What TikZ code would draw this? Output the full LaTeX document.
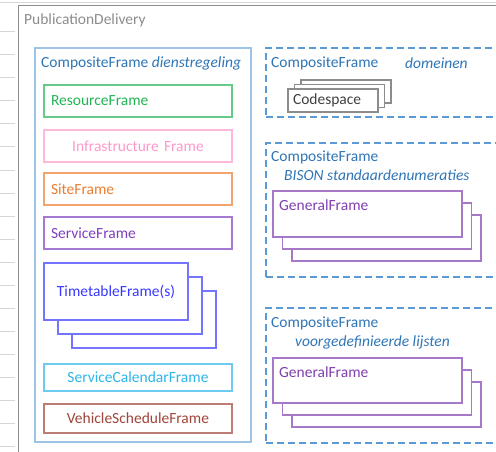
\documentclass[tikz,border=0pt]{standalone}
\usepackage{fontspec}
\setmainfont{Carlito}
\usetikzlibrary{positioning,shadows}

\definecolor{gridgray}{HTML}{D6D6D6}
\definecolor{pdgray}{HTML}{8C8C8C}
\definecolor{cfblue}{HTML}{2E75B6}
\definecolor{cfline}{HTML}{9DC3E6}
\definecolor{cfdash}{HTML}{5B9BD5}
\definecolor{resgreen}{HTML}{22B455}
\definecolor{infpink}{HTML}{FF99CC}
\definecolor{siteorange}{HTML}{ED7D31}
\definecolor{servpurple}{HTML}{7F3FBF}
\definecolor{ttblue}{HTML}{3838FF}
\definecolor{calcyan}{HTML}{2DB5E8}
\definecolor{vehbrown}{HTML}{A0453A}
\definecolor{csgray}{HTML}{404040}
\definecolor{genpurple}{HTML}{8040B0}

\tikzset{
    txt/.style={font=\fontsize{15.5}{18}\selectfont},
    frm/.style={txt, draw=#1!70, text=#1, fill=white, line width=1.1pt,
        inner xsep=7pt, inner ysep=0pt, outer sep=0pt, minimum height=32pt},
    leftfrm/.style={frm=#1, text width=174pt, align=left},
    midfrm/.style={frm=#1, text width=174pt, align=center},
    ttl/.style={txt, inner sep=0pt, anchor=west},
    cframe/.style={draw=cfdash, line width=1.3pt, dash pattern=on 7pt off 4pt,
        anchor=north west, minimum width=260pt, inner sep=0pt, outer sep=0pt},
    stack/.style 2 args={copy shadow={shadow xshift=2*#1, shadow yshift=2*#2},
        copy shadow={shadow xshift=#1, shadow yshift=#2}}
}

\begin{document}
\begin{tikzpicture}[x=1pt, y=-1pt]
    \useasboundingbox (0,0) rectangle (496,452);
    \clip (0,0) rectangle (496,452);
    % sheet lines
    \draw[gridgray, line width=1pt] (0,2.5) -- (496,2.5);
    \foreach \y in {32,55,...,447} \draw[gridgray, line width=1pt] (0,\y) -- (15,\y);

    % publication delivery
    \draw[pdgray, line width=1pt] (18,6) rectangle (520,480);
    \node[ttl, text=pdgray] (pd) at (24,20) {PublicationDelivery};

    % dienstregeling
    \node[draw=cfline, line width=1.4pt, anchor=north west, minimum width=216pt,
        minimum height=394pt, inner sep=0pt, outer sep=0pt] (dienst) at (35,48) {};
    \node[ttl, text=cfblue] (dienstttl) at (41,63) {CompositeFrame \textit{dienstregeling}};
    \node[leftfrm=resgreen, anchor=north west] (resource) at (44,85) {ResourceFrame};
    \node[midfrm=infpink, below=13pt of resource] (infra) {Infrastructure Frame};
    \node[leftfrm=siteorange, below=11pt of infra] (site) {SiteFrame};
    \node[leftfrm=servpurple, below=12pt of site] (service) {ServiceFrame};
    \node[frm=ttblue, minimum width=144pt, minimum height=57pt, stack={14pt}{-14pt},
        below=14pt of service.south west, anchor=north west] (timetable) {TimetableFrame(s)};
    \node[midfrm=calcyan, minimum height=27pt, below=44pt of timetable.south west,
        anchor=north west] (calendar) {ServiceCalendarFrame};
    \node[midfrm=vehbrown, minimum height=29pt, below=13pt of calendar] (vehicle) {VehicleScheduleFrame};

    % domeinen
    \node[cframe, minimum height=69pt] (domein) at (266,48) {};
    \node[ttl, text=cfblue] (domeinttl) at (271,63) {CompositeFrame};
    \node[ttl, text=cfblue] (domeinsub) at (405,63) {\textit{domeinen}};
    \node[frm=csgray, draw=pdgray, minimum height=23pt, inner xsep=5pt, text width=80pt,
        align=left, stack={6.5pt}{4.5pt}, anchor=north west] (codespace) at (288,89) {Codespace};

    % standaardenumeraties
    \node[cframe, minimum height=134pt] (bison) at (266,143) {};
    \node[ttl, text=cfblue] (bisonttl) at (271,157) {CompositeFrame};
    \node[ttl, text=cfblue] (bisonsub) at (284,175) {\textit{BISON standaardenumeraties}};
    \node[frm=genpurple, minimum width=189pt, minimum height=46pt, stack={9.5pt}{-12pt},
        anchor=north west] (bisongen) at (273,191) {};
    \node[ttl, text=genpurple] (bisongenttl) at ([shift={(6,14)}]bisongen.north west) {GeneralFrame};

    % voorgedefinieerde lijsten
    \node[cframe, minimum height=135pt] (lijst) at (266,308) {};
    \node[ttl, text=cfblue] (lijstttl) at (271,323) {CompositeFrame};
    \node[ttl, text=cfblue] (lijstsub) at (295,342) {\textit{voorgedefinieerde lijsten}};
    \node[frm=genpurple, minimum width=189pt, minimum height=45pt, stack={9.5pt}{-12pt},
        anchor=north west] (lijstgen) at (273,358) {};
    \node[ttl, text=genpurple] (lijstgenttl) at ([shift={(6,14)}]lijstgen.north west) {GeneralFrame};
\end{tikzpicture}
\end{document}
